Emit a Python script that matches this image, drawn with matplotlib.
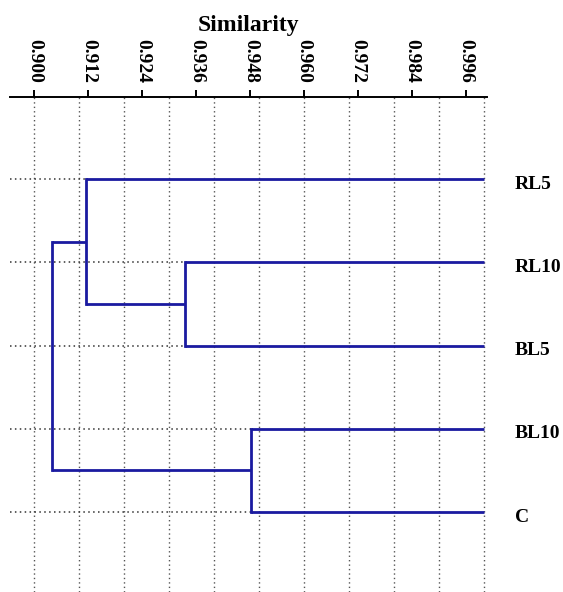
import matplotlib
matplotlib.use("Agg")
import matplotlib.pyplot as plt
import matplotlib.transforms as mtransforms
import numpy as np

# ---- data ----
leaves = ["RL5", "RL10", "BL5", "BL10", "C"]
# merges: (child_a, child_b, similarity); children are leaf names or merge indices ("m0", ...)
merge_a = ["RL10", "BL10", "RL5", "m2"]
merge_b = ["BL5", "C", "m0", "m1"]
merge_sim = [0.9335, 0.9482, 0.9114, 0.9040]
tick_values = [0.900, 0.912, 0.924, 0.936, 0.948, 0.960, 0.972, 0.984, 0.996]
tick_labels = ["0.900", "0.912", "0.924", "0.936", "0.948", "0.960", "0.972", "0.984", "0.996"]
grid_values = [0.90, 0.91, 0.92, 0.93, 0.94, 0.95, 0.96, 0.97, 0.98, 0.99, 1.00]
axis_title = "Similarity"

FONT = ["Liberation Serif", "DejaVu Serif"]
BLUE = "#1a1aa0"

fig = plt.figure(figsize=(5.63, 5.92), dpi=100)
ax = fig.add_axes([0.0178, 0.0, 0.847, 0.836])
ax.set_xlim(0.8946, 1.0006)
ax.set_ylim(4.96, -0.985)

# grid (vertical dotted)
for g in grid_values:
    ax.axvline(g, color="#555555", lw=1.0, ls=(0, (1, 2.2)), zorder=1)

# positions
ypos = {name: i for i, name in enumerate(leaves)}
xpos = {name: 1.0 for name in leaves}
parent_x = {}
for i, (a, b, s) in enumerate(zip(merge_a, merge_b, merge_sim)):
    key = f"m{i}"
    ypos[key] = (ypos[a] + ypos[b]) / 2
    xpos[key] = s
    parent_x[a] = s
    parent_x[b] = s

# leaf dotted guides
for name in leaves:
    ax.plot([0.8946, parent_x[name]], [ypos[name], ypos[name]], color="#333333",
            lw=1.1, ls=(0, (1, 2.2)), zorder=2)

# dendrogram
for i, (a, b, s) in enumerate(zip(merge_a, merge_b, merge_sim)):
    ax.plot([s, s], [ypos[a], ypos[b]], color=BLUE, lw=2.0, zorder=3, solid_capstyle="projecting")
    for c in (a, b):
        ax.plot([s, xpos[c]], [ypos[c], ypos[c]], color=BLUE, lw=2.0, zorder=3,
                solid_capstyle="butt")

# leaf labels
trans = mtransforms.blended_transform_factory(ax.transAxes, ax.transData)
off = mtransforms.ScaledTranslation(0, -5 / 100, fig.dpi_scale_trans)
for name in leaves:
    ax.text(1.0587, ypos[name], name, transform=trans + off, ha="left", va="center",
            fontsize=14, fontweight="bold", family=FONT)

# axis styling
for sp in ["left", "right", "bottom"]:
    ax.spines[sp].set_visible(False)
ax.spines["top"].set_linewidth(1.4)
ax.xaxis.set_ticks_position("top")
ax.xaxis.set_label_position("top")
ax.set_xticks(tick_values)
ax.set_xticklabels(tick_labels, rotation=-90, fontsize=14, fontweight="bold", family=FONT)
ax.tick_params(axis="x", direction="out", length=5, width=1.4, pad=5)
ax.set_yticks([])
ax.set_xlabel(axis_title, fontsize=17, fontweight="bold", family=FONT, labelpad=6)

fig.savefig("out.png", dpi=100)
